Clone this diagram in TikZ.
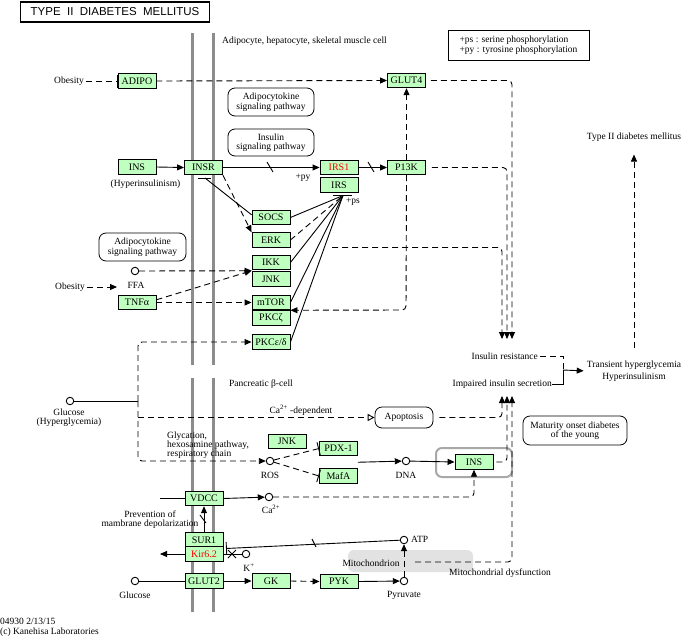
\documentclass[tikz,border=0pt]{standalone}
\usepackage{fontspec}
\setmainfont{Liberation Serif}
\newfontfamily\titlefont{Liberation Sans}
\usetikzlibrary{arrows.meta,calc}
\definecolor{kgreen}{HTML}{BFFFBF}
\definecolor{memgray}{HTML}{8C8C8C}
\definecolor{mitogray}{HTML}{E2E2E2}
\definecolor{insgray}{HTML}{A8A8A8}
\definecolor{kred}{HTML}{FF0000}
\begin{document}
\begin{tikzpicture}[x=1pt,y=-1pt,
  every node/.style={font=\fontsize{9.5}{10}\selectfont, inner sep=0pt},
  gene/.style={draw=black, fill=kgreen, line width=0.9pt, minimum width=38pt, minimum height=14.5pt, font=\fontsize{10}{10}\selectfont},
  redgene/.style={gene, text=kred},
  mapbox/.style={draw=black, line width=0.8pt, rounded corners=7pt, align=center, font=\fontsize{9.5}{9.5}\selectfont},
  cmpd/.style={circle, draw=black, line width=0.9pt, minimum size=7.5pt, fill=white},
  dsh/.style={dash pattern=on 6pt off 4pt},
  arr/.style={-{Triangle[length=7pt,width=6pt]}},
  oarr/.style={-{Triangle[open,length=7pt,width=7pt]}},
  inh/.style={-{Bar[width=13pt]}},
  conn/.style={line width=0.9pt},
  mem/.style={line width=3pt, draw=memgray},
]
\fill[white] (0,0) rectangle (685,637);
\useasboundingbox (0,0) rectangle (685,637);

% title
\node[draw=black, line width=1.6pt, minimum width=189pt, minimum height=20pt,
  font=\titlefont\fontsize{11.5}{12}\selectfont] (title) at (115,12) {TYPE\ \ II\ \ DIABETES\ \ MELLITUS};

% membranes
\draw[mem] (192,33) -- (192,365);
\draw[mem] (213,33) -- (213,365);
\draw[mem] (192,378) -- (192,612);
\draw[mem] (213,378) -- (213,612);

% background regions
\node[fill=mitogray, rounded corners=6pt, minimum width=125pt, minimum height=22pt] (mito) at (410.5,561) {};
\node[draw=insgray, line width=2pt, rounded corners=6pt, minimum width=76pt, minimum height=29pt] (insbox) at (474,462.5) {};

% static labels
\node[anchor=west] (cellA) at (222,41) {Adipocyte, hepatocyte, skeletal muscle cell};
\node[draw=black, line width=0.8pt, align=left, minimum width=141pt, minimum height=30pt] (legend) at (518.5,45)
  {+ps : serine phosphorylation\\+py : tyrosine phosphorylation};
\node[anchor=west] (pbeta) at (229,384) {Pancreatic β-cell};
\node (T2D) at (634,137) {Type II diabetes mellitus};
\node[align=center, font=\fontsize{9.5}{12}\selectfont] (Trans) at (634,371) {Transient hyperglycemia\\Hyperinsulinism};
\node[anchor=east] (IRt) at (538,356) {Insulin resistance};
\node[anchor=east] (IISt) at (552,384) {Impaired insulin secretion};
\node[anchor=west, align=left] (foot) at (0,627) {04930 2/13/15\\(c) Kanehisa Laboratories};

% map boxes
\node[mapbox, minimum width=86pt, minimum height=28pt] (adipo1) at (271,102) {Adipocytokine\\signaling pathway};
\node[mapbox, minimum width=86pt, minimum height=27pt] (insp) at (271,142.5) {Insulin\\signaling pathway};
\node[mapbox, minimum width=87pt, minimum height=28pt] (adipo2) at (142.5,247) {Adipocytokine\\signaling pathway};
\node[mapbox, minimum width=58pt, minimum height=21pt] (apop) at (404,417.5) {Apoptosis};
\node[mapbox, minimum width=104pt, minimum height=29pt] (mody) at (575,430.5) {Maturity onset diabetes\\of the young};

% genes upper
\node[gene] (ADIPO) at (137,81) {ADIPO};
\node[gene] (GLUT4) at (406.5,80.5) {GLUT4};
\node[gene] (INS1) at (137,167) {INS};
\node[gene] (INSR) at (203.5,167.5) {INSR};
\node[redgene] (IRS1) at (339,167.5) {IRS1};
\node[gene] (IRS) at (339,185) {IRS};
\node[gene] (P13K) at (406.5,167.5) {P13K};
\node[gene] (SOCS) at (271,217.5) {SOCS};
\node[gene] (ERK) at (271,240) {ERK};
\node[gene] (IKK) at (271,262.5) {IKK};
\node[gene] (JNK) at (271,279) {JNK};
\node[gene] (mTOR) at (271,302.5) {mTOR};
\node[gene] (PKCz) at (271,318) {PKCζ};
\node[gene] (PKCed) at (271,342) {PKCε/δ};
\node[gene] (TNFa) at (137,302.5) {TNFα};
% genes lower
\node[gene] (JNK2) at (287,441.5) {JNK};
\node[gene] (PDX1) at (338.5,448.5) {PDX-1};
\node[gene] (MafA) at (338.5,476) {MafA};
\node[gene] (INS2) at (474,462) {INS};
\node[gene] (VDCC) at (204,498.5) {VDCC};
\node[gene] (SUR1) at (204,540) {SUR1};
\node[redgene] (Kir) at (204,554) {Kir6.2};
\node[gene] (GLUT2) at (204,581) {GLUT2};
\node[gene] (GK) at (271,581) {GK};
\node[gene] (PYK) at (339,581.5) {PYK};

% compounds
\node[cmpd] (FFA) at (135,271) {};
\node[cmpd] (Glc1) at (70,401) {};
\node[cmpd] (ROS) at (270,461) {};
\node[cmpd] (DNA) at (406,461) {};
\node[cmpd] (Ca) at (269,497) {};
\node[cmpd] (K) at (246,554) {};
\node[cmpd] (ATP) at (404,540) {};
\node[cmpd] (Pyr) at (404,581) {};
\node[cmpd] (Glc2) at (135,581) {};

% compound / other labels
\node[anchor=east] (ob1) at (84,81) {Obesity};
\node[anchor=east] (ob2) at (85,287) {Obesity};
\node (hyperins) at (145.5,184.5) {(Hyperinsulinism)};
\node (FFAt) at (136,285) {FFA};
\node[align=center, font=\fontsize{9.5}{8.5}\selectfont] (Glc1t) at (69,417.5) {Glucose\\(Hyperglycemia)};
\node[anchor=north west, align=left, font=\fontsize{9.5}{9}\selectfont] (glyc) at (167,431.5) {Glycation,\\hexosamine pathway,\\respiratory chain};
\node (ROSt) at (270,475) {ROS};
\node (DNAt) at (406,475) {DNA};
\node (Cat) at (271,509) {Ca\textsuperscript{2+}};
\node (Kt) at (249,568) {K\textsuperscript{+}};
\node (Glc2t) at (135,595) {Glucose};
\node (Pyrt) at (404,595) {Pyruvate};
\node[anchor=west] (ATPt) at (411,539) {ATP};
\node (mitot) at (371,563) {Mitochondrion};
\node (mdys) at (500,573) {Mitochondrial dysfunction};
\node[align=center, font=\fontsize{9.5}{9}\selectfont] (prev) at (150,519.5) {Prevention of\\mambrane depolarization};
\node (py) at (303,178) {+py};
\node (ps) at (353,202) {+ps};
\node (cadep) at (301,410) {Ca\textsuperscript{2+} -dependent};

% coordinates for free ends
\coordinate (ir1) at (502,339);
\coordinate (ir2) at (507,339);
\coordinate (ir3) at (512,339);
\coordinate (iis1) at (502,396);
\coordinate (iis2) at (507,396);
\coordinate (iis3) at (512,396);
\coordinate (psp) at (343,195.5);
\coordinate (erkout) at (332,247.5);
\coordinate (mtz) at ($(mTOR.south east)!0.5!(PKCz.north east)$);
\coordinate (ikj) at ($(IKK.south west)!0.5!(JNK.north west)$);
\coordinate (ob2tip) at (117,287);
\coordinate (gbr) at (138,401);
\coordinate (cadstart) at (138,417.5);
\coordinate (pm) at ($(PDX1.south east)!0.5!(MafA.north east)$);
\coordinate (mdstart) at (415,562);
\coordinate (vdccin) at (160,498.5);
\coordinate (kirout) at (160,554);
\coordinate (atpbar) at (226,548.5);
\coordinate (brk) at (563,370);
\coordinate (insrbar) at (205,178);

% upper connectors
\draw[conn,dsh,inh,shorten <=2pt] (ob1.east) -- (ADIPO.west);
\draw[conn,dsh,arr] (ADIPO.east) -- (GLUT4.west);
\draw[conn,dsh,arr,rounded corners=4pt,shorten <=5pt] (GLUT4.east) -- (512,80.5) -- (ir3);
\draw[conn,arr] (INS1.east) -- (INSR.west);
\draw[conn,arr] (INSR.east) -- (IRS1.west);
\draw[conn] (267,162) -- (273,172);
\draw[conn,arr] (IRS1.east) -- (P13K.west);
\draw[conn] (368,162) -- (374,172);
\draw[conn,dsh,arr,rounded corners=4pt,shorten <=6pt] (P13K.east) -- (507,167.5) -- (ir2);
\draw[conn,dsh,arr] (P13K.north) -- (GLUT4.south);
\draw[conn,dsh,arr,rounded corners=4pt] (P13K.south) -- (406,310) -- (mtz);
\draw[conn,dsh,arr,rounded corners=4pt] (erkout) -- (502,247.5) -- (ir1);
\draw[conn] (SOCS.172) -- (insrbar);
\draw[conn] (198,178) -- (211,178);
\draw[conn,dsh,arr] (INSR.south east) -- (ERK.north west);
\draw[conn] (SOCS.east) -- (psp);
\draw[conn,dsh] (ERK.east) -- (psp);
\draw[conn] (IKK.east) -- (psp);
\draw[conn] (mTOR.east) -- (psp);
\draw[conn] (PKCed.east) -- (psp);
\draw[conn] (333,195.5) -- (352,195.5);
\draw[conn,dsh,arr] (FFA) -- (ikj);
\draw[conn,dsh,arr,shorten <=2pt] (ob2.east) -- (ob2tip);
\draw[conn,dsh,arr] (TNFa.east) -- (mTOR.west);
\draw[conn,dsh,arr] (TNFa.8) -- (ikj);

% glucose bracket
\draw[conn] (Glc1) -- (gbr);
\draw[conn,dsh,arr,rounded corners=4pt] (gbr) -- (138,342) -- (PKCed.west);
\draw[conn,dsh,arr,rounded corners=4pt] (gbr) -- (138,461) -- (ROS);
\draw[conn,dsh,oarr] (cadstart) -- (apop.west);

% beta cell
\draw[conn,dsh,inh] (ROS) -- (PDX1.west);
\draw[conn,dsh,inh] (ROS) -- (MafA.west);
\draw[conn,arr] (pm) -- (DNA);
\draw[conn,arr] (DNA) -- (INS2.west);
\draw[conn,dsh,arr,rounded corners=4pt,shorten <=3pt] (INS2.east) -- (507,462) -- (iis2);
\draw[conn,dsh,arr,rounded corners=4pt,shorten <=6pt] (apop.east) -- (502,417.5) -- (iis1);
\draw[conn,dsh,arr,rounded corners=4pt] (mdstart) -- (512,562) -- (iis3);
\draw[conn] (vdccin) -- (VDCC.west);
\draw[conn,arr] (VDCC.east) -- (Ca);
\draw[conn,dsh,arr,rounded corners=4pt] (Ca) -| (INS2.south);
\draw[conn,arr] (SUR1.north) -- (VDCC.south);
\draw[conn] (200,515) -- (206,523);
\draw[conn,arr] (Kir.west) -- (kirout);
\draw[conn] (K) -- (Kir.east);
\draw[conn] (228,550) -- (236,558);
\draw[conn] (228,558) -- (236,550);
\draw[conn,inh] (ATP) -- (atpbar);
\draw[conn] (312,539) -- (316,547);
\draw[conn] (Glc2) -- (GLUT2.west);
\draw[conn,arr] (GLUT2.east) -- (GK.west);
\draw[conn,dsh,arr] (GK.east) -- (PYK.west);
\draw[conn,arr] (PYK.east) -- (Pyr);
\draw[conn,dsh,arr] (Pyr) -- (ATP);

% outcome bracket
\draw[conn,dsh,shorten <=2pt] (IRt.east) -- (563,356) -- (brk);
\draw[conn] (IISt.east) -- (563,384) -- (brk);
\draw[conn,arr,shorten >=3pt] (brk) -- (Trans.west);
\draw[conn,dsh,arr,shorten <=12pt,shorten >=13pt] (Trans.north) -- (T2D.south);
\end{tikzpicture}
\end{document}
